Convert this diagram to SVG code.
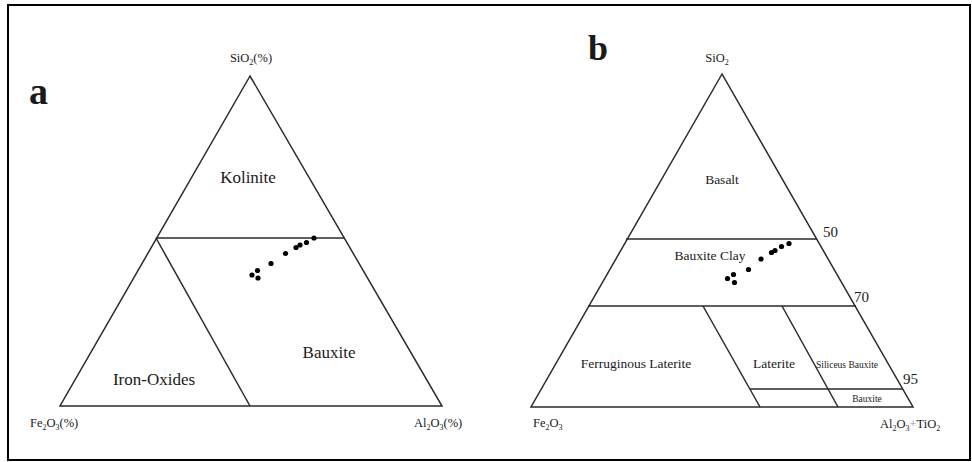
<svg xmlns="http://www.w3.org/2000/svg" width="972" height="462" viewBox="0 0 972 462">
<style>
.ln{stroke:#2a2a2a;stroke-width:1.5;fill:none}
.t{font-family:"Liberation Serif","Times New Roman","DejaVu Serif",serif;fill:#1a1a1a}
.ax{font-size:12.5px}
.lab{font-size:17px}
.labb{font-size:13.5px}
.num{font-size:15px}
.sm{font-size:9.5px}
.big{font-weight:bold}
.d{fill:#000}
</style>
<rect x="8" y="5" width="962" height="455" fill="#fff" stroke="#000" stroke-width="2"/>
<g id="panel-a">
  <g id="a-frame"><polygon class="ln" points="250,76 60,406 442,406"/></g>
  <g id="a-connectors">
    <line class="ln" x1="156" y1="238" x2="344" y2="238"/>
    <line class="ln" x1="156" y1="238" x2="250" y2="406"/>
  </g>
  <text class="t big" x="29" y="104" font-size="38">a</text>
  <text class="t ax" x="251" y="62" text-anchor="middle">SiO<tspan font-size="8" dy="3">2</tspan><tspan dy="-3">(%)</tspan></text>
  <text class="t ax" x="30" y="427">Fe<tspan font-size="8" dy="3">2</tspan><tspan dy="-3">O</tspan><tspan font-size="8" dy="3">3</tspan><tspan dy="-3">(%)</tspan></text>
  <text class="t ax" x="414" y="427">Al<tspan font-size="8" dy="3">2</tspan><tspan dy="-3">O</tspan><tspan font-size="8" dy="3">3</tspan><tspan dy="-3">(%)</tspan></text>
  <g id="kolinite"><text class="t lab" x="248" y="183" text-anchor="middle">Kolinite</text></g>
  <g id="bauxite-a"><text class="t lab" x="329" y="358" text-anchor="middle">Bauxite</text></g>
  <g id="iron-oxides"><text class="t lab" x="154" y="385" text-anchor="middle">Iron-Oxides</text></g>
  <g id="a-dots">
    <circle class="d" cx="252" cy="275" r="2.6"/>
    <circle class="d" cx="257.5" cy="270.5" r="2.6"/>
    <circle class="d" cx="258" cy="278" r="2.6"/>
    <circle class="d" cx="271" cy="263.5" r="2.6"/>
    <circle class="d" cx="285.5" cy="253.5" r="2.6"/>
    <circle class="d" cx="296" cy="247.5" r="2.6"/>
    <circle class="d" cx="300" cy="245" r="2.6"/>
    <circle class="d" cx="306.5" cy="242.5" r="2.6"/>
    <circle class="d" cx="314" cy="238" r="2.6"/>
  </g>
</g>
<g id="panel-b">
  <g id="b-frame"><polygon class="ln" points="722,74 531,407 913,407"/></g>
  <g id="b-connectors">
    <line class="ln" x1="626" y1="239" x2="817" y2="239"/>
    <line class="ln" x1="588" y1="306" x2="856" y2="306"/>
    <line class="ln" x1="703" y1="306" x2="760" y2="407"/>
    <line class="ln" x1="782" y1="306" x2="838" y2="407"/>
    <line class="ln" x1="750" y1="389" x2="903" y2="389"/>
  </g>
  <text class="t big" x="588" y="60" font-size="36">b</text>
  <text class="t ax" x="717" y="62" text-anchor="middle">SiO<tspan font-size="8" dy="3">2</tspan></text>
  <text class="t ax" x="533" y="427">Fe<tspan font-size="8" dy="3">2</tspan><tspan dy="-3">O</tspan><tspan font-size="8" dy="3">3</tspan></text>
  <text class="t ax" x="880" y="428">Al<tspan font-size="8" dy="3">2</tspan><tspan dy="-3">O</tspan><tspan font-size="8" dy="3">3</tspan><tspan dy="-3" fill="#999">+</tspan>TiO<tspan font-size="8" dy="3">2</tspan></text>
  <text class="t num" x="823" y="237">50</text>
  <text class="t num" x="854" y="302">70</text>
  <text class="t num" x="903" y="384">95</text>
  <g id="basalt"><text class="t labb" x="722" y="184" text-anchor="middle">Basalt</text></g>
  <g id="bauxite-clay"><text class="t labb" x="710" y="260" text-anchor="middle">Bauxite Clay</text></g>
  <g id="ferruginous-laterite"><text class="t labb" x="636" y="368" text-anchor="middle">Ferruginous Laterite</text></g>
  <g id="laterite"><text class="t labb" x="774" y="368" text-anchor="middle">Laterite</text></g>
  <g id="siliceus-bauxite"><text class="t sm" x="847" y="368" text-anchor="middle">Siliceus Bauxite</text></g>
  <g id="bauxite-b"><text class="t sm" x="867" y="402" text-anchor="middle">Bauxite</text></g>
  <g id="b-dots">
    <circle class="d" cx="727.5" cy="278.5" r="2.6"/>
    <circle class="d" cx="733.5" cy="274.5" r="2.6"/>
    <circle class="d" cx="734.5" cy="282.5" r="2.6"/>
    <circle class="d" cx="748.5" cy="269.5" r="2.6"/>
    <circle class="d" cx="761" cy="259" r="2.6"/>
    <circle class="d" cx="771.5" cy="252.5" r="2.6"/>
    <circle class="d" cx="775" cy="250.5" r="2.6"/>
    <circle class="d" cx="781.5" cy="246.5" r="2.6"/>
    <circle class="d" cx="789" cy="243.5" r="2.6"/>
  </g>
</g>
</svg>
